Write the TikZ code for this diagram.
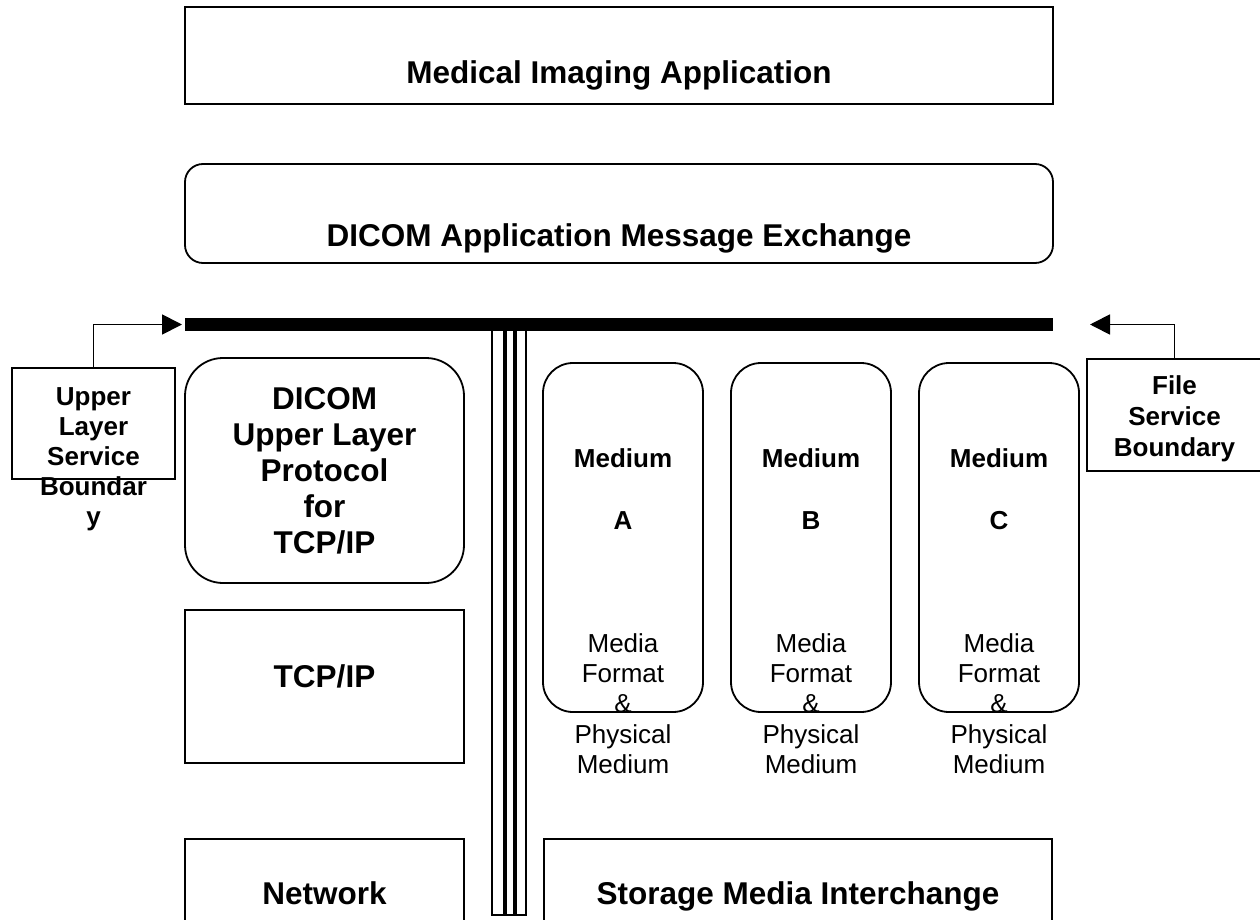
\documentclass[tikz,border=0pt]{standalone}
\usepackage{fontspec}
\setmainfont{Liberation Sans}
\usetikzlibrary{arrows.meta}
\begin{document}
\begin{tikzpicture}[x=1pt,y=-1pt,
  box/.style={draw, line width=1.8pt, inner sep=0pt, outer sep=0pt},
  bigtxt/.style={font=\bfseries\fontsize{31.5}{36}\selectfont, inner sep=0pt, anchor=base},
  midb/.style={font=\bfseries\fontsize{26}{30}\selectfont, inner sep=0pt, anchor=base},
  midr/.style={font=\fontsize{26}{30}\selectfont, inner sep=0pt, anchor=base},
  conn/.style={line width=1.8pt, -{Triangle[length=20pt,width=20pt]}}]
\useasboundingbox (0,0) rectangle (1260,920);

% top layers
\node[box, minimum width=868pt, minimum height=97pt] (mia) at (619,55.5) {};
\node[bigtxt] (mia-t) at (619,84) {Medical Imaging Application};
\node[box, rounded corners=18pt, minimum width=868pt, minimum height=99pt] (dame) at (619,213.5) {};
\node[bigtxt] (dame-t) at (619,246) {DICOM Application Message Exchange};

% boundary bar
\node[fill=black, inner sep=0pt, minimum width=868pt, minimum height=13pt] (bar) at (619,324.5) {};

% vertical separator
\node[draw, line width=1.6pt, inner sep=0pt, minimum width=34pt, minimum height=590pt] (vbar) at (509,620) {};
\draw[line width=4.4pt] (504.8,326) -- (504.8,915);
\draw[line width=4.4pt] (515.2,326) -- (515.2,915);

% network side
\node[box, rounded corners=38pt, minimum width=279pt, minimum height=225pt] (ulp) at (324.5,470.5) {};
\foreach \t [count=\i] in {DICOM,Upper Layer,Protocol,for,TCP/IP}
  \node[bigtxt] (ulp-t\i) at (324.5,{409+36*(\i-1)}) {\t};
\node[box, minimum width=279pt, minimum height=153pt] (tcp) at (324.5,686.5) {};
\node[bigtxt] (tcp-t) at (324.5,687) {TCP/IP};
\node[box, minimum width=279pt, minimum height=100pt] (net) at (324.5,889) {};
\node[bigtxt] (net-t) at (324.5,904) {Network};

% media side
\foreach \L/\cx in {A/623,B/811,C/999} {
  \node[box, rounded corners=30pt, minimum width=160pt, minimum height=349pt] (med\L) at (\cx,537.5) {};
  \node[midb] (med\L-t1) at (\cx,467) {Medium};
  \node[midb] (med\L-t2) at (\cx,529) {\L};
  \foreach \t [count=\i] in {Media,Format,\&,Physical,Medium}
    \node[midr] (med\L-b\i) at (\cx,{652+30.4*(\i-1)}) {\t};
}
\node[box, minimum width=508pt, minimum height=100pt] (sto) at (798,889) {};
\node[bigtxt] (sto-t) at (798,904) {Storage Media Interchange};

% callouts
\node[box, minimum width=163pt, minimum height=111pt] (ulsb) at (93.5,423.5) {};
\foreach \t [count=\i] in {Upper,Layer,Service,Boundar,y}
  \node[midb] (ulsb-t\i) at (93.5,{405+30*(\i-1)}) {\t};
\node[box, minimum width=175pt, minimum height=112pt] (fsb) at (1174.5,415) {};
\foreach \t [count=\i] in {File,Service,Boundary}
  \node[midb] (fsb-t\i) at (1174.5,{394+31*(\i-1)}) {\t};

\coordinate (tipL) at (182,324.5);
\coordinate (tipR) at (1090,324.5);
\draw[conn] (ulsb.north) |- (tipL);
\draw[conn] (fsb.north) |- (tipR);
\end{tikzpicture}
\end{document}
